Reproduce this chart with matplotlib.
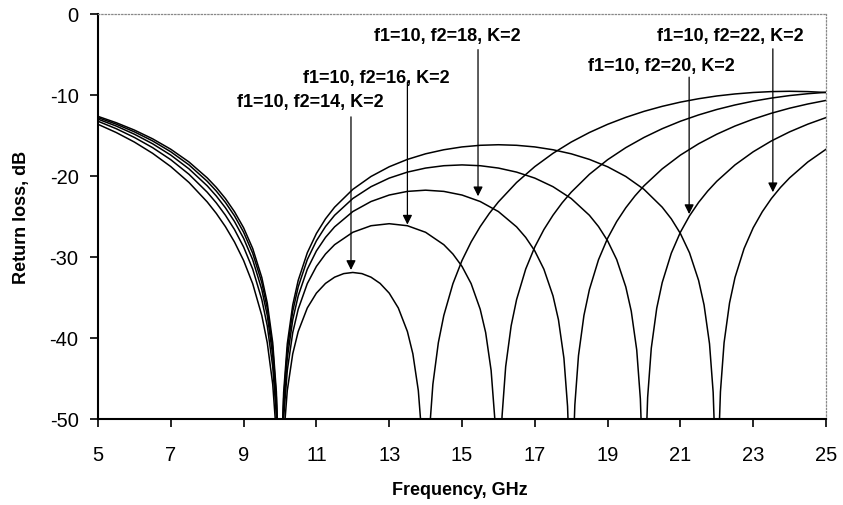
import matplotlib
matplotlib.use('Agg')
import matplotlib.pyplot as plt

plt.rcParams['font.family'] = ['Liberation Sans', 'DejaVu Sans']
plt.rcParams['axes.unicode_minus'] = False

# ---------------- data ----------------
freq_14 = [5, 5.5, 6, 6.5, 7, 7.5, 8, 8.25, 8.5, 8.75, 9, 9.25, 9.5,
           9.65, 9.8, 9.9, 9.96, 10.04, 10.1, 10.2, 10.35,
           10.5, 10.75, 11, 11.25, 11.5, 11.75, 12, 12.25, 12.5, 12.75, 13, 13.25, 13.5,
           13.65, 13.8, 13.9, 13.96, 14.04, 14.1, 14.2, 14.35,
           14.5, 14.75, 15, 15.25, 15.5, 15.75, 16,
           16.5, 17, 17.5, 18, 18.5, 19, 19.5, 20, 20.5, 21, 21.5, 22, 22.5,
           23, 23.5, 24, 24.5, 25]
rl_14 = [-13.62, -14.63, -15.81, -17.20, -18.84, -20.80, -23.20, -24.62, -26.25,
         -28.15, -30.43, -33.30, -37.22,
         -40.58, -45.71, -51.92, -59.99, -60.15, -52.31, -46.49, -41.95,
         -39.20, -36.29, -34.46, -33.26, -32.49, -32.05, -31.91, -32.05, -32.49,
         -33.26, -34.46, -36.29, -39.20,
         -41.95, -46.49, -52.31, -60.15, -59.99, -51.92, -45.71, -40.58,
         -37.22, -33.30, -30.43, -28.15, -26.25, -24.62, -23.20,
         -20.80, -18.84, -17.20, -15.81, -14.63, -13.62, -12.76, -12.02, -11.40,
         -10.88, -10.46, -10.12, -9.87, -9.69, -9.58, -9.54, -9.58, -9.69]

freq_16 = [5, 5.5, 6, 6.5, 7, 7.5, 8, 8.25, 8.5, 8.75, 9, 9.25, 9.5,
           9.65, 9.8, 9.9, 9.96, 10.04, 10.1, 10.2, 10.35,
           10.5, 10.75, 11, 11.25, 11.5, 12, 12.5, 13, 13.5, 14,
           14.5, 14.75, 15, 15.25, 15.5,
           15.65, 15.8, 15.9, 15.96, 16.04, 16.1, 16.2, 16.35,
           16.5, 16.75, 17, 17.25, 17.5, 17.75, 18,
           18.5, 19, 19.5, 20, 20.5, 21, 21.5, 22, 22.5, 23, 23.5, 24, 24.5, 25]
rl_16 = [-13.24, -14.16, -15.24, -16.50, -17.99, -19.79, -22.00, -23.32, -24.84,
         -26.61, -28.76, -31.49, -35.25,
         -38.50, -43.53, -49.67, -57.70, -57.79, -49.91, -44.01, -39.33,
         -36.45, -33.28, -31.16, -29.63, -28.48, -26.95, -26.14, -25.89, -26.14, -26.95,
         -28.48, -29.63, -31.16, -33.28, -36.45,
         -39.33, -44.01, -49.91, -57.79, -57.70, -49.67, -43.53, -38.50,
         -35.25, -31.49, -28.76, -26.61, -24.84, -23.32, -22.00,
         -19.79, -17.99, -16.50, -15.24, -14.16, -13.24, -12.46, -11.79, -11.23,
         -10.76, -10.38, -10.07, -9.84, -9.67]

freq_18 = [5, 5.5, 6, 6.5, 7, 7.5, 8, 8.25, 8.5, 8.75, 9, 9.25, 9.5,
           9.65, 9.8, 9.9, 9.96, 10.04, 10.1, 10.2, 10.35,
           10.5, 10.75, 11, 11.25, 11.5, 12, 12.5, 13, 13.5, 14, 14.5, 15, 15.5, 16,
           16.5, 16.75, 17, 17.25, 17.5,
           17.65, 17.8, 17.9, 17.96, 18.04, 18.1, 18.2, 18.35,
           18.5, 18.75, 19, 19.25, 19.5, 19.75, 20,
           20.5, 21, 21.5, 22, 22.5, 23, 23.5, 24, 24.5, 25]
rl_18 = [-12.98, -13.83, -14.84, -16.02, -17.42, -19.12, -21.21, -22.47, -23.92,
         -25.62, -27.69, -30.34, -34.02,
         -37.21, -42.18, -48.28, -56.29, -56.35, -48.44, -42.49, -37.75,
         -34.80, -31.51, -29.25, -27.58, -26.28, -24.39, -23.15, -22.35, -21.90,
         -21.75, -21.90, -22.35, -23.15, -24.39,
         -26.28, -27.58, -29.25, -31.51, -34.80,
         -37.75, -42.49, -48.44, -56.35, -56.29, -48.28, -42.18, -37.21,
         -34.02, -30.34, -27.69, -25.62, -23.92, -22.47, -21.21,
         -19.12, -17.42, -16.02, -14.84, -13.83, -12.98, -12.25, -11.63, -11.11, -10.67]

freq_20 = [5, 5.5, 6, 6.5, 7, 7.5, 8, 8.25, 8.5, 8.75, 9, 9.25, 9.5,
           9.65, 9.8, 9.9, 9.96, 10.04, 10.1, 10.2, 10.35,
           10.5, 10.75, 11, 11.25, 11.5, 12, 12.5, 13, 13.5, 14, 14.5, 15, 15.5,
           16, 16.5, 17, 17.5, 18,
           18.5, 18.75, 19, 19.25, 19.5,
           19.65, 19.8, 19.9, 19.96, 20.04, 20.1, 20.2, 20.35,
           20.5, 20.75, 21, 21.25, 21.5, 21.75, 22,
           22.5, 23, 23.5, 24, 24.5, 25]
rl_20 = [-12.79, -13.60, -14.55, -15.67, -17.01, -18.63, -20.65, -21.86, -23.26,
         -24.92, -26.94, -29.53, -33.16,
         -36.32, -41.26, -47.33, -55.32, -55.36, -47.51, -41.47, -36.69,
         -33.69, -30.32, -28.00, -26.24, -24.85, -22.78, -21.32, -20.26, -19.52,
         -19.02, -18.73, -18.63, -18.73, -19.02, -19.52, -20.26, -21.32, -22.78,
         -24.85, -26.24, -28.00, -30.32, -33.69,
         -36.69, -41.47, -47.51, -55.36, -55.32, -47.33, -41.26, -36.32,
         -33.16, -29.53, -26.94, -24.92, -23.26, -21.86, -20.65,
         -18.63, -17.01, -15.67, -14.55, -13.60, -12.79]

freq_22 = [5, 5.5, 6, 6.5, 7, 7.5, 8, 8.25, 8.5, 8.75, 9, 9.25, 9.5,
           9.65, 9.8, 9.9, 9.96, 10.04, 10.1, 10.2, 10.35,
           10.5, 10.75, 11, 11.25, 11.5, 12, 12.5, 13, 13.5, 14, 14.5, 15, 15.5,
           16, 16.5, 17, 17.5, 18, 18.5, 19, 19.5, 20,
           20.5, 20.75, 21, 21.25, 21.5,
           21.65, 21.8, 21.9, 21.96, 22.04, 22.1, 22.2, 22.35,
           22.5, 22.75, 23, 23.25, 23.5, 23.75, 24,
           24.5, 25]
rl_22 = [-12.64, -13.42, -14.33, -15.41, -16.70, -18.27, -20.23, -21.41, -22.78,
         -24.41, -26.39, -28.95, -32.53,
         -35.67, -40.58, -46.64, -54.62, -54.65, -46.71, -40.72, -35.92,
         -32.89, -29.48, -27.10, -25.29, -23.85, -21.65, -20.06, -18.86, -17.95,
         -17.26, -16.76, -16.41, -16.21, -16.14, -16.21, -16.41, -16.76, -17.26,
         -17.95, -18.86, -20.06, -21.65,
         -23.85, -25.29, -27.10, -29.48, -32.89,
         -35.92, -40.72, -46.71, -54.65, -54.62, -46.64, -40.58, -35.67,
         -32.53, -28.95, -26.39, -24.41, -22.78, -21.41, -20.23,
         -18.27, -16.70]

labels = ["f1=10, f2=14, K=2", "f1=10, f2=16, K=2", "f1=10, f2=18, K=2",
          "f1=10, f2=20, K=2", "f1=10, f2=22, K=2"]
label_x = [10.82, 12.64, 14.59, 20.49, 22.36]
label_y = [-10.75, -7.8, -2.7, -6.4, -2.7]
arrow_x = [11.95, 13.5, 15.44, 21.24, 23.54]
arrow_top = [-12.7, -8.4, -4.4, -7.8, -4.3]
arrow_tip = [-31.6, -26.0, -22.5, -24.7, -22.0]

x_ticks = [5, 7, 9, 11, 13, 15, 17, 19, 21, 23, 25]
y_ticks = [0, -10, -20, -30, -40, -50]

# ---------------- figure ----------------
W, H = 843, 506
fig = plt.figure(figsize=(W / 100, H / 100), dpi=100)
ax = fig.add_axes([98 / W, 1 - 420 / H, (826 - 98) / W, (420 - 15) / H])

for f, r in [(freq_14, rl_14), (freq_16, rl_16), (freq_18, rl_18),
             (freq_20, rl_20), (freq_22, rl_22)]:
    ax.plot(f, r, color='black', lw=1.1, solid_joinstyle='round')

ax.set_xlim(5, 25)
ax.set_ylim(-50, 0)
ax.set_xticks(x_ticks)
ax.set_yticks(y_ticks)
ax.set_xticklabels([str(v) for v in x_ticks])
ax.set_yticklabels([str(v) for v in y_ticks])
ax.tick_params(axis='both', direction='out', length=6, width=1.2,
               labelsize=14.5, colors='black')
ax.tick_params(axis='x', pad=13)
ax.tick_params(axis='y', pad=8)

for s in ['left', 'bottom']:
    ax.spines[s].set_linewidth(1.5)
    ax.spines[s].set_color('black')
for s in ['top', 'right']:
    ax.spines[s].set_linestyle(':')
    ax.spines[s].set_linewidth(0.9)
    ax.spines[s].set_color('#888888')

for i in range(len(labels)):
    ax.annotate('', xy=(arrow_x[i], arrow_tip[i]), xytext=(arrow_x[i], arrow_top[i]),
                arrowprops=dict(arrowstyle='-|>', color='black', lw=0.9,
                                mutation_scale=14, shrinkA=0, shrinkB=0))
    ax.text(label_x[i], label_y[i], labels[i], ha='center', va='center',
            fontsize=13, fontweight='bold')

fig.text(22 / W, 1 - 217 / H, 'Return loss, dB', rotation=90, ha='center',
         va='center', fontsize=13, fontweight='bold')
fig.text(460 / W, 1 - 491 / H, 'Frequency, GHz', ha='center', va='center',
         fontsize=13, fontweight='bold')

fig.savefig('out.png', dpi=100)
